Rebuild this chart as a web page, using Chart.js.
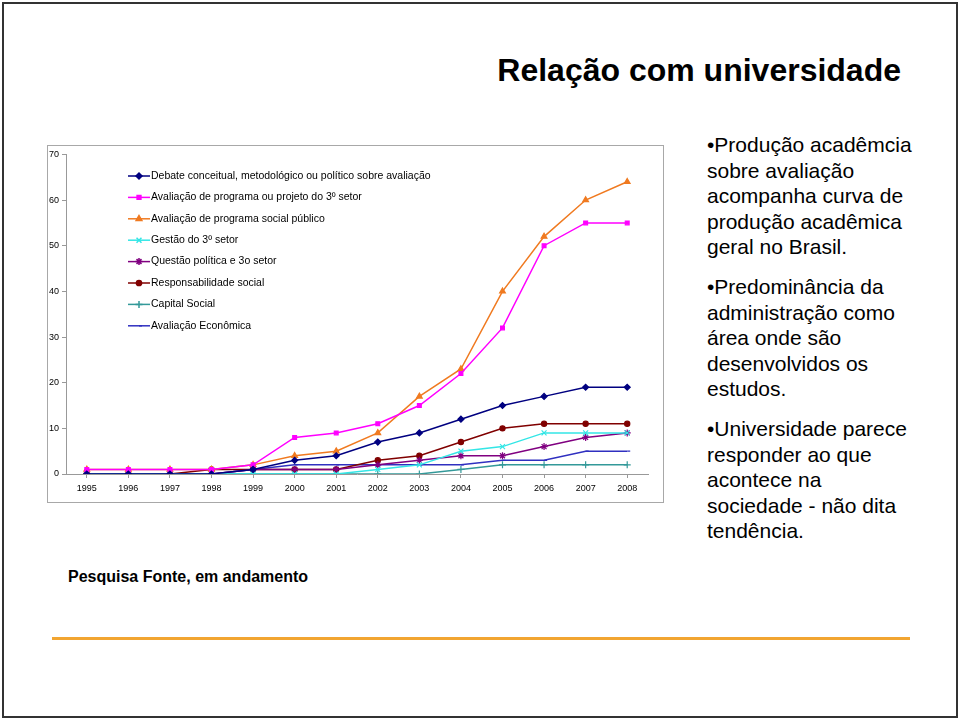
<!DOCTYPE html>
<html lang="pt-br">
<head>
<meta charset="UTF-8" />
<title>Relação com universidade</title>
<script src="https://cdn.jsdelivr.net/npm/chart.js"></script>
<style>
  body { margin: 0; width: 960px; height: 720px; position: relative; background: #fff; font-family: "Liberation Sans", Arial, sans-serif; overflow: hidden; }
  .moldura { position: absolute; left: 2px; top: 2px; width: 952px; height: 712px; border: 2px solid #333; }
  .titulo { position: absolute; right: 59px; top: 52px; font-size: 32px; font-weight: bold; color: #000; }
  .grafico { position: absolute; left: 47px; top: 145px; width: 615px; height: 356px; border: 1px solid #a8a8a8; }
  .texto { position: absolute; left: 707px; top: 132px; font-size: 21px; line-height: 25.5px; color: #000; }
  .texto p { margin: 0 0 14.5px 0; }
  .fonte { position: absolute; left: 68px; top: 568px; font-size: 16px; font-weight: bold; }
  .linha { position: absolute; left: 52px; top: 637px; width: 858px; height: 3px; background: #f2a531; }
</style>
</head>
<body>
  <div class="moldura"></div>
  <div class="titulo">Relação com universidade</div>
  <div class="grafico"><canvas id="myCanvas" width="615" height="356"></canvas></div>
  <div class="texto">
    <p>•Produção acadêmcia<br>sobre avaliação<br>acompanha curva de<br>produção acadêmica<br>geral no Brasil.</p>
    <p>•Predominância da<br>administração como<br>área onde são<br>desenvolvidos os<br>estudos.</p>
    <p>•Universidade parece<br>responder ao que<br>acontece na<br>sociedade - não dita<br>tendência.</p>
  </div>
  <div class="fonte">Pesquisa Fonte, em andamento</div>
  <div class="linha"></div>
<script>
  // anos e valores
  let anos = ["1995","1996","1997","1998","1999","2000","2001","2002","2003","2004","2005","2006","2007","2008"];

  let debate       = [0, 0, 0, 0, 1, 3, 4, 7, 9, 12, 15, 17, 19, 19];
  let avalTerceiro = [1, 1, 1, 1, 2, 8, 9, 11, 15, 22, 32, 50, 55, 55];
  let avalPublico  = [1, 1, 1, 1, 2, 4, 5, 9, 17, 23, 40, 52, 60, 64];
  let gestao       = [0, 0, 0, 0, 0, 0, 0, 1, 2, 5, 6, 9, 9, 9];
  let questao      = [0, 0, 0, 0, 1, 1, 1, 2, 3, 4, 4, 6, 8, 9];
  let responsab    = [0, 0, 0, 1, 1, 1, 1, 3, 4, 7, 10, 11, 11, 11];
  let capital      = [0, 0, 0, 0, 0, 0, 0, 0, 0, 1, 2, 2, 2, 2];
  let economica    = [0, 0, 0, 0, 1, 2, 2, 2, 2, 2, 3, 3, 5, 5];

  let yTicks = [0, 10, 20, 30, 40, 50, 60, 70];

  function serie(label, data, cor, estilo, raio) {
    return {
      label: label,
      data: data,
      borderColor: cor,
      backgroundColor: cor,
      pointStyle: estilo,
      pointRadius: raio,
      pointBorderWidth: 1.2,
      borderWidth: 1.5,
      tension: 0,
      fill: false
    };
  }

  let dados = {
    labels: anos,
    datasets: [
      serie("Debate conceitual, metodológico ou político sobre avaliação", debate, "#000080", "rectRot", 3),
      serie("Avaliação de programa ou projeto do 3º setor", avalTerceiro, "#ff00ff", "rect", 2.7),
      serie("Avaliação de programa social público", avalPublico, "#f07a20", "triangle", 3.3),
      serie("Gestão do 3º setor", gestao, "#33e6e6", "crossRot", 3.5),
      serie("Questão política e 3o setor", questao, "#800080", "star", 3.5),
      serie("Responsabilidade social", responsab, "#800000", "circle", 2.6),
      serie("Capital Social", capital, "#339999", "cross", 3.5),
      serie("Avaliação Econômica", economica, "#3030c0", "dash", 3)
    ]
  };

  // legenda desenhada dentro da área do gráfico
  const legendaInterna = {
    id: "legendaInterna",
    afterDraw(chart) {
      const ctx = chart.ctx;
      ctx.save();
      ctx.font = "10.5px 'Liberation Sans', Arial, sans-serif";
      ctx.textBaseline = "middle";
      chart.data.datasets.forEach(function (ds, i) {
        let y = 30 + i * 21.4;
        let x0 = 80;
        ctx.strokeStyle = ds.borderColor;
        ctx.fillStyle = ds.backgroundColor;
        ctx.lineWidth = 1.5;
        ctx.beginPath();
        ctx.moveTo(x0, y);
        ctx.lineTo(x0 + 22, y);
        ctx.stroke();
        Chart.helpers.drawPoint(ctx, { pointStyle: ds.pointStyle, radius: ds.pointRadius, rotation: 0, borderWidth: 1.2 }, x0 + 11, y);
        ctx.fillStyle = "#000";
        ctx.fillText(ds.label, x0 + 23, y);
      });
      ctx.restore();
    }
  };

  const config = {
    type: "line",
    data: dados,
    options: {
      responsive: false,
      animation: false,
      layout: { padding: { top: 6, right: 15, left: 0, bottom: 0 } },
      scales: {
        x: {
          offset: true,
          grid: { display: true, drawOnChartArea: false, tickLength: 4, color: "#999" },
          border: { color: "#999" },
          ticks: { color: "#000", font: { size: 9, family: "'Liberation Sans', Arial" }, maxRotation: 0, padding: 5 },
          afterFit: function (s) { s.height = 28; }
        },
        y: {
          min: 0,
          max: 70,
          afterBuildTicks: function (s) { s.ticks = yTicks.map(function (v) { return { value: v }; }); },
          grid: { display: true, drawOnChartArea: false, tickLength: 4, color: "#999" },
          border: { color: "#999" },
          ticks: { color: "#000", font: { size: 9, family: "'Liberation Sans', Arial" }, padding: 3 },
          afterFit: function (s) { s.width = 18; }
        }
      },
      plugins: {
        legend: { display: false },
        title: { display: false },
        tooltip: { enabled: false }
      }
    },
    plugins: [legendaInterna]
  };

  let myChart = new Chart(document.getElementById("myCanvas"), config);
</script>
</body>
</html>
